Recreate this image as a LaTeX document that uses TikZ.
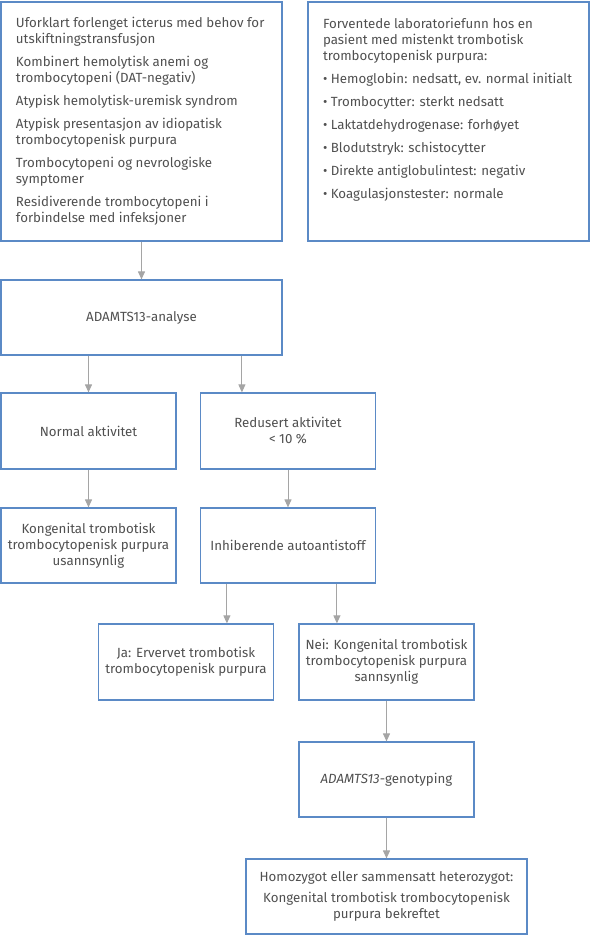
\documentclass[tikz,border=0pt]{standalone}
\usepackage{fontspec}
\setmainfont{Fira Sans}
\usetikzlibrary{positioning, arrows.meta}
\definecolor{boxblue}{HTML}{5B8AC6}
\definecolor{arrgray}{HTML}{A5A5A5}
\definecolor{txtgray}{HTML}{505050}

\begin{document}
\begin{tikzpicture}[x=1pt, y=-1pt, >={Triangle[length=8pt,width=7pt]},
    box/.style={draw=boxblue, line width=1.2pt, align=center, inner sep=0pt, text=txtgray,
      font=\fontsize{13.3}{16}\selectfont},
    wide/.style={box, minimum width=281pt, minimum height=75pt},
    small/.style={box, minimum width=175pt, minimum height=76pt},
    arr/.style={->, color=arrgray, line width=1pt}]

    \useasboundingbox (0,0) rectangle (590,935);

    % top row
    \node[wide, minimum height=239pt] (symptoms) at (141.5,121.5)
      {\parbox{251pt}{\raggedright
       \mbox{Uforklart forlenget icterus med behov for}\\ utskiftningstransfusjon\\[7pt]
       Kombinert hemolytisk anemi og\\ trombocytopeni (DAT-negativ)\\[7pt]
       Atypisk hemolytisk-uremisk syndrom\\[7pt]
       Atypisk presentasjon av idiopatisk\\ trombocytopenisk purpura\\[7pt]
       Trombocytopeni og nevrologiske\\ symptomer\\[7pt]
       Residiverende trombocytopeni i\\ forbindelse med infeksjoner}};
    \node[wide, minimum height=239pt] (labs) at (448.5,121.5)
      {\parbox[c][206pt][t]{251pt}{\raggedright
       Forventede laboratoriefunn hos en\\ pasient med mistenkt trombotisk\\ trombocytopenisk purpura:\\[7pt]
       \mbox{\textbullet\ Hemoglobin: nedsatt, ev. normal initialt}\\[7pt]
       \textbullet\ Trombocytter: sterkt nedsatt\\[7pt]
       \textbullet\ Laktatdehydrogenase: forhøyet\\[7pt]
       \textbullet\ Blodutstryk: schistocytter\\[7pt]
       \textbullet\ Direkte antiglobulintest: negativ\\[7pt]
       \textbullet\ Koagulasjonstester: normale}};

    % flow
    \node[wide] (analyse) at (141.5,317.5) {ADAMTS13-analyse};
    \node[small] (normal) at (88.5,431) {Normal aktivitet};
    \node[small] (redusert) at (288,431) {Redusert aktivitet\\ < 10 \%};
    \node[small, minimum height=75pt] (usann) at (88.5,545.5)
      {Kongenital trombotisk\\ trombocytopenisk purpura\\ usannsynlig};
    \node[small, minimum height=75pt] (inhib) at (288,545.5) {Inhiberende autoantistoff};
    \node[small] (ja) at (186,662) {Ja: Ervervet trombotisk\\ trombocytopenisk purpura};
    \node[small] (nei) at (386.5,662)
      {Nei: Kongenital trombotisk\\ trombocytopenisk purpura\\ sannsynlig};
    \node[small, minimum height=75pt] (geno) at (386.5,779.5) {\textit{ADAMTS13}-genotyping};
    \node[wide] (homo) at (386.5,896.5)
      {Homozygot eller sammensatt heterozygot:\\[5pt]
       Kongenital trombotisk trombocytopenisk\\ purpura bekreftet};

    % arrows
    \draw[arr] (symptoms) -- (analyse);
    \draw[arr] (analyse.south -| normal.north) -- (normal);
    \draw[arr] ([xshift=42pt]redusert.north west |- analyse.south) -- ([xshift=42pt]redusert.north west);
    \draw[arr] (normal) -- (usann);
    \draw[arr] (redusert) -- (inhib);
    \draw[arr] ([xshift=27pt]inhib.south west) -- ([xshift=27pt]inhib.south west |- ja.north);
    \draw[arr] ([xshift=137pt]inhib.south west) -- ([xshift=137pt]inhib.south west |- nei.north);
    \draw[arr] (nei) -- (geno);
    \draw[arr] (geno) -- (homo);
\end{tikzpicture}
\end{document}
